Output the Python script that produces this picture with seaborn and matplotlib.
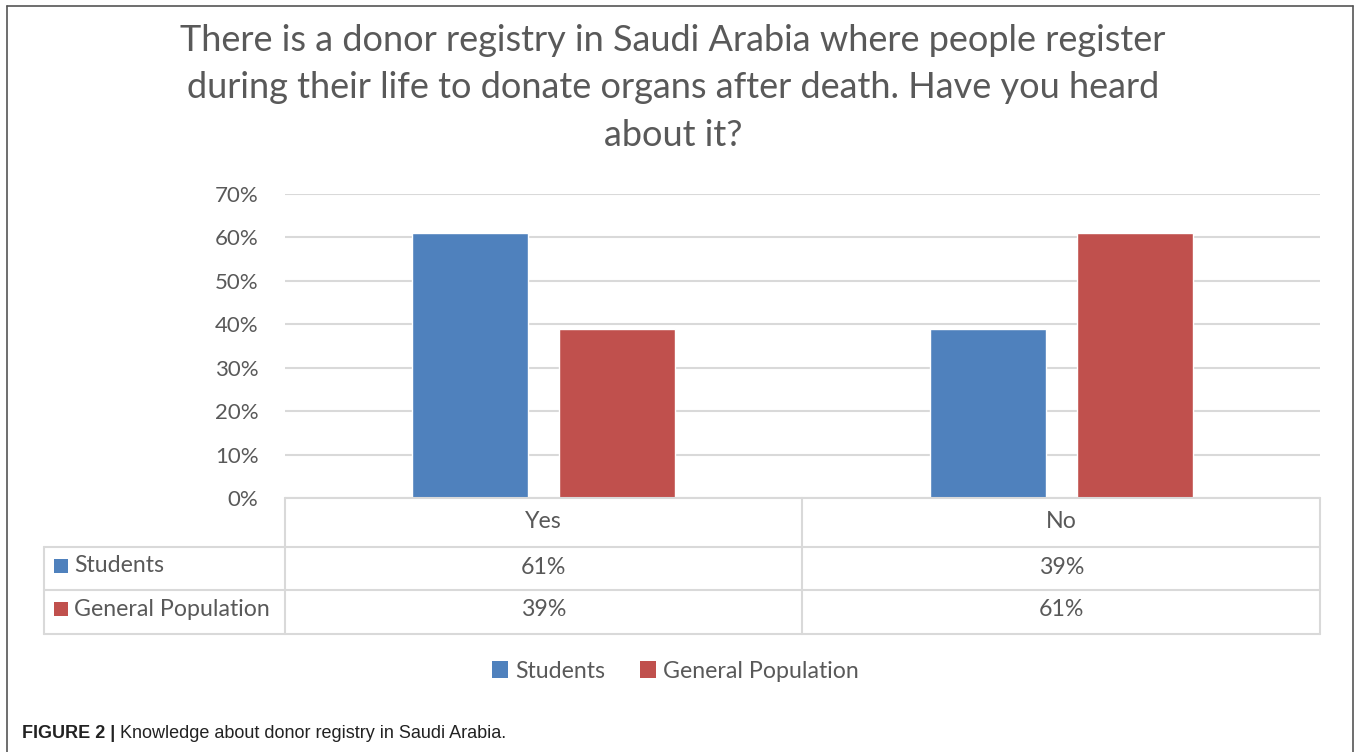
import matplotlib
matplotlib.use("Agg")
import matplotlib.pyplot as plt
import matplotlib.transforms as mtransforms
from matplotlib.lines import Line2D
from matplotlib.patches import Rectangle
import seaborn as sns
import pandas as pd

# ---- data ----
categories = ["Yes", "No"]
series_names = ["Students", "General Population"]
students = [0.61, 0.39]
general_population = [0.39, 0.61]
y_ticks = [0.0, 0.1, 0.2, 0.3, 0.4, 0.5, 0.6, 0.7]
title = ("There is a donor registry in Saudi Arabia where people register\n"
         "during their life to donate organs after death. Have you heard\n"
         "about it?")
caption_bold = "FIGURE 2 |"
caption_text = " Knowledge about donor registry in Saudi Arabia."

colors = ["#4F81BD", "#C0504D"]
text_gray = "#595959"
grid_gray = "#D9D9D9"

df = pd.DataFrame({
    "category": categories * 2,
    "series": [series_names[0]] * 2 + [series_names[1]] * 2,
    "value": students + general_population,
})

sns.set_theme(style="white")
plt.rcParams["font.family"] = ["Lato", "DejaVu Sans"]

W, H = 1357, 752
fig = plt.figure(figsize=(W / 100, H / 100), dpi=100)

def fx(px):
    return px / W

def fy(py):
    return 1 - py / H

ax_left, ax_right, ax_top, ax_bottom = 285, 1320, 194, 498
ax = fig.add_axes([fx(ax_left), fy(ax_bottom), fx(ax_right - ax_left), (ax_bottom - ax_top) / H])

sns.barplot(data=df, x="category", y="value", hue="series", hue_order=series_names,
            order=categories, palette=colors, width=0.568, gap=0.21, saturation=1,
            ax=ax, legend=False, zorder=3)

ax.set_xlim(-0.5, len(categories) - 0.5)
ax.set_ylim(0, 0.7)
ax.set_yticks(y_ticks)
ax.set_yticklabels([f"{int(round(t * 100))}%" for t in y_ticks], fontsize=16, color=text_gray)
ax.tick_params(axis="y", length=0, pad=19)
ax.set_xticks([])
ax.set_xlabel("")
ax.set_ylabel("")
for s in ax.spines.values():
    s.set_visible(False)
ax.yaxis.grid(True, color=grid_gray, linewidth=1.5, zorder=0)
ax.set_axisbelow(True)

# ---- title ----
fig.text(fx(673), fy(88), title, ha="center", va="center", fontsize=26,
         color=text_gray, linespacing=1.53)

# ---- data table ----
lw = 1.5
row_y = [498, 547, 590, 634]
tbl_left = 44
blend = mtransforms.blended_transform_factory(ax.transData, fig.transFigure)

def hline(y, x0, x1):
    fig.add_artist(Line2D([fx(x0), fx(x1)], [fy(y), fy(y)], color=grid_gray, lw=lw))

hline(row_y[0], ax_left, ax_right)
for y in row_y[1:]:
    hline(y, tbl_left, ax_right)
fig.add_artist(Line2D([fx(tbl_left), fx(tbl_left)], [fy(row_y[1]), fy(row_y[3])],
                      color=grid_gray, lw=lw))
# boundaries between categories (data coordinates)
for b in [i - 0.5 for i in range(len(categories) + 1)]:
    xpix = ax.transData.transform((b, 0))[0]
    fig.add_artist(Line2D([xpix / W, xpix / W], [fy(row_y[0]), fy(row_y[3])],
                          color=grid_gray, lw=lw))

fs_tbl = 16.7
for i, cat in enumerate(categories):
    fig.text(i, fy(522), cat, transform=blend, ha="center", va="center",
             fontsize=fs_tbl, color=text_gray)
    fig.text(i, fy(568), f"{int(round(students[i] * 100))}%", transform=blend,
             ha="center", va="center", fontsize=fs_tbl, color=text_gray)
    fig.text(i, fy(610), f"{int(round(general_population[i] * 100))}%", transform=blend,
             ha="center", va="center", fontsize=fs_tbl, color=text_gray)

for name, col, yc in zip(series_names, colors, [566, 609]):
    fig.add_artist(Rectangle((fx(54), fy(yc + 7)), fx(14), 14 / H,
                             facecolor=col, edgecolor="none"))
    fig.text(fx(74), fy(yc), name, ha="left", va="center", fontsize=fs_tbl,
             color=text_gray)

# ---- legend ----
handles = [Rectangle((0, 0), 1, 1, facecolor=c, edgecolor="none") for c in colors]
leg = fig.legend(handles, series_names, loc="center", bbox_to_anchor=(fx(675), fy(671)),
                 ncol=2, frameon=False, fontsize=fs_tbl, handlelength=0.7,
                 handleheight=0.7, handletextpad=0.3, columnspacing=1.5)
for t in leg.get_texts():
    t.set_color(text_gray)

# ---- frame ----
frame_c = "#555555"
fig.add_artist(Line2D([fx(7), fx(7)], [fy(6), 0], color=frame_c, lw=1.2))
fig.add_artist(Line2D([fx(7), fx(1353)], [fy(6), fy(6)], color=frame_c, lw=1.2))
fig.add_artist(Line2D([fx(1353), fx(1353)], [fy(6), 0], color=frame_c, lw=1.2))

# ---- caption ----
cap_fs = 13
cap1 = fig.text(fx(22), fy(733), caption_bold, ha="left", va="center", fontsize=cap_fs,
                fontweight="bold", family=["Liberation Sans", "DejaVu Sans"], color="#222222")
fig.canvas.draw()
bb = cap1.get_window_extent()
fig.text(bb.x1 / W, fy(733), caption_text, ha="left", va="center", fontsize=cap_fs,
         family=["Liberation Sans", "DejaVu Sans"], color="#222222")

fig.savefig("out.png", dpi=100)
